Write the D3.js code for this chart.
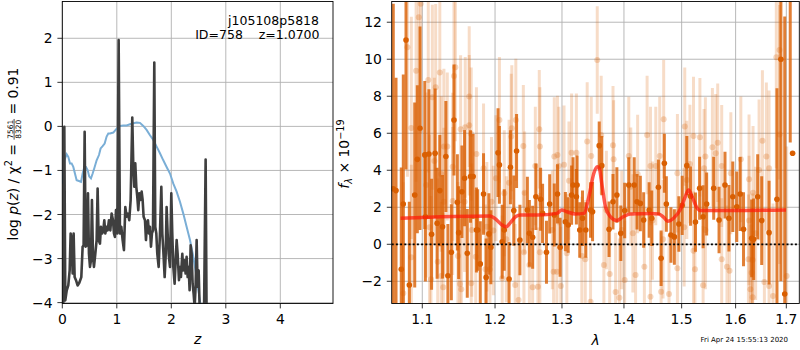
<!DOCTYPE html>
<html><head><meta charset="utf-8">
<script src="https://cdn.jsdelivr.net/npm/d3@7"></script>
<style>body{margin:0;background:#fff} svg{display:block} text{font-family:"DejaVu Sans",sans-serif;fill:#000}</style>
</head><body><svg id="c" width="800" height="350"></svg>
<script>
// ---------- data: left panel, log p(z) ----------
const pzZ = [0.0,0.018,0.037,0.055,0.080,0.110,0.135,0.153,0.171,0.190,0.208,0.226,0.251,0.281,0.312,0.349,0.373,0.391,0.410,0.428,0.453,0.471,0.489,0.508,0.526,0.544,0.563,0.581,0.606,0.630,0.648,0.667,0.691,0.709,0.734,0.752,0.771,0.789,0.813,0.832,0.856,0.881,0.905,0.930,0.948,0.966,0.985,1.009,1.034,1.058,1.083,1.107,1.131,1.156,1.180,1.205,1.229,1.254,1.284,1.303,1.321,1.339,1.358,1.376,1.394,1.413,1.431,1.456,1.474,1.492,1.517,1.535,1.554,1.572,1.590,1.609,1.627,1.645,1.664,1.688,1.706,1.725,1.743,1.768,1.792,1.817,1.835,1.853,1.878,1.896,1.914,1.933,1.951,1.976,2.000,2.018,2.037,2.061,2.080,2.098,2.116,2.141,2.159,2.177,2.202,2.220,2.239,2.263,2.281,2.300,2.318,2.336,2.355,2.373,2.391,2.410,2.428,2.446,2.465,2.483,2.502,2.520,2.557,2.599,2.630,2.648,2.700];
const pzLogP = [-4.5,-4.02,-0.01,-3.95,-3.73,-3.61,-3.27,-2.43,-2.58,-3.34,-2.43,-3.42,-3.49,-3.61,-3.55,-3.42,-2.73,-2.70,-0.12,-2.73,-2.70,-1.52,-2.89,-3.19,-3.04,-1.67,-2.96,-3.19,-2.89,-2.58,-1.41,-2.58,-2.66,-2.28,-2.43,-2.36,-2.13,-2.43,-2.28,-2.36,-2.13,-2.36,-1.98,-2.13,-2.43,-2.51,-1.90,-2.43,1.96,-2.43,-2.28,-2.58,-2.81,-1.83,-2.05,-1.98,-2.13,-1.67,0.20,-0.92,-1.37,-0.84,-1.37,-1.60,-1.90,-1.52,-1.67,-1.48,-1.67,-2.05,-2.13,-2.58,-2.20,-2.13,-2.43,-2.28,-2.73,-2.43,-2.36,1.45,-2.28,-2.43,-2.89,-3.19,-2.43,-1.37,-2.43,-2.81,-3.42,-2.96,-1.83,-2.43,-2.89,-3.19,-1.52,-2.43,-3.19,-3.57,-3.04,-2.58,-2.89,-3.49,-3.19,-3.42,-2.89,-3.27,-3.04,-3.34,-2.96,-3.42,-3.19,-3.72,-2.70,-2.89,-3.57,-3.80,-4.10,-3.64,-2.58,-3.64,-3.27,-4.10,-4.40,-4.40,-0.75,-4.40,-5.0];
// scaled chi-square curve (blue)
const chiZ = [0.0,0.037,0.080,0.110,0.141,0.171,0.202,0.232,0.263,0.306,0.343,0.373,0.404,0.434,0.465,0.495,0.526,0.557,0.587,0.630,0.673,0.703,0.740,0.777,0.813,0.844,0.875,0.936,0.997,1.058,1.119,1.180,1.242,1.303,1.364,1.425,1.486,1.547,1.609,1.670,1.731,1.792,1.853,1.914,1.976,2.037,2.098,2.159,2.220,2.281,2.343,2.404,2.465,2.514,2.544];
const chiCurve = [-1.30,-0.77,-0.63,-0.69,-0.84,-0.84,-0.92,-1.07,-1.22,-1.24,-1.26,-1.07,-0.92,-0.92,-0.99,-1.14,-1.18,-1.07,-0.95,-0.77,-0.65,-0.50,-0.45,-0.39,-0.23,-0.16,-0.16,-0.14,-0.05,0.01,0.02,0.02,0.05,0.07,0.09,0.08,0.01,-0.08,-0.20,-0.31,-0.46,-0.61,-0.77,-0.92,-1.07,-1.30,-1.48,-1.71,-1.98,-2.28,-2.58,-2.96,-3.42,-3.87,-4.10];
const zTicks = [0,1,2,3,4];
const logpTicks = [-4,-3,-2,-1,0,1,2];

// ---------- data: right panel, spectrum ----------
// combined (dark) spectrum
const binLam  = [1.0625,1.0660,1.0727,1.0753,1.0788,1.0831,1.0901,1.0935,1.0970,1.1033,1.1041,1.1088,1.1123,1.1170,1.1197,1.1233,1.1270,1.1315,1.1342,1.1389,1.1425,1.1471,1.1489,1.1534,1.1571,1.1608,1.1653,1.1690,1.1736,1.1753,1.1790,1.1836,1.1873,1.1912,1.1940,1.2043,1.2063,1.2103,1.2133,1.2203,1.2223,1.2272,1.2313,1.2362,1.2473,1.2503,1.2552,1.2601,1.2672,1.2702,1.2761,1.2810,1.2881,1.2930,1.2971,1.3053,1.3097,1.3150,1.3173,1.3226,1.3237,1.3279,1.3323,1.3376,1.3452,1.3484,1.3592,1.3634,1.3753,1.3818,1.3882,1.3947,1.4012,1.4081,1.4173,1.4220,1.4277,1.4334,1.4428,1.4473,1.4589,1.4636,1.4693,1.4728,1.4809,1.4870,1.4950,1.5010,1.5093,1.5160,1.5250,1.5326,1.5390,1.5455,1.5586,1.5686,1.5798,1.5872,1.5946,1.6022,1.6087,1.6152,1.6310,1.6349,1.6428,1.6507,1.6653,1.6811,1.6890,1.6968,1.7080,1.7128];
const binFlux = [3.0,2.9,-1.35,2.18,11.04,-2.20,2.66,4.59,6.27,4.83,1.49,4.88,0.54,4.92,1.14,2.90,0.95,4.74,-1.70,-0.43,6.72,2.27,0.63,2.84,3.57,-0.49,3.66,3.66,0.77,0.77,-1.06,2.72,-1.79,0.56,-0.16,4.95,4.29,0.14,0.77,-1.88,4.16,1.82,5.04,0.23,1.85,0.59,0.38,2.57,2.43,1.67,-0.43,2.18,1.58,2.72,-0.16,1.22,1.04,2.66,3.20,2.57,3.20,0.77,1.41,0.77,1.85,1.76,5.33,4.25,0.81,2.30,2.66,0.59,1.82,3.20,3.20,2.30,2.21,1.31,1.85,1.41,3.08,-0.76,4.38,2.18,0.50,0.40,1.10,2.10,4.25,2.60,1.20,3.03,1.49,2.18,3.03,1.31,3.20,1.41,2.57,2.03,2.72,0.81,0.32,0.27,2.57,1.28,0.63,2.43,10.0,-2.69,14.5,4.92];
const binErr  = [10,6.1,5.5,7.0,7.0,4.5,5.0,4.0,5.5,4.0,3.5,3.5,3.0,3.5,3.0,3.0,2.8,3.0,2.8,2.6,3.0,2.6,2.5,2.5,2.6,2.4,2.5,2.3,2.3,2.2,2.3,2.2,2.1,2.2,2.0,2.4,2.1,2.0,2.2,2.0,2.0,1.9,2.0,1.9,1.8,1.8,1.7,1.8,1.7,1.6,1.7,1.6,1.7,1.6,1.6,1.6,1.5,1.6,1.5,1.5,1.6,1.5,1.5,1.5,1.5,1.6,1.3,1.6,1.5,1.5,1.5,1.5,1.5,1.5,1.5,1.5,1.5,1.5,1.5,1.5,1.5,1.5,1.6,1.5,1.5,1.5,1.5,1.6,1.6,1.6,1.6,1.7,1.7,1.7,1.7,1.8,1.8,1.8,1.9,1.9,2.0,2.0,2.1,2.2,2.3,2.4,2.8,6.0,12,15,9.0,0];
// individual (light) spectrum
const rawLam  = [1.0753,1.0806,1.0857,1.0857,1.0919,1.0954,1.0980,1.1051,1.1079,1.1096,1.1115,1.1133,1.1160,1.1178,1.1205,1.1233,1.1252,1.1252,1.1279,1.1288,1.1288,1.1334,1.1407,1.1407,1.1425,1.1444,1.1479,1.1507,1.1516,1.1526,1.1571,1.1580,1.1635,1.1635,1.1663,1.1663,1.1671,1.1726,1.1736,1.1836,1.1863,1.1883,1.1927,1.1949,1.1976,1.2013,1.2063,1.2103,1.2133,1.2163,1.2203,1.2234,1.2243,1.2293,1.2302,1.2342,1.2413,1.2422,1.2432,1.2503,1.2552,1.2592,1.2631,1.2652,1.2661,1.2661,1.2851,1.2870,1.2881,1.2921,1.2930,1.2951,1.2982,1.3032,1.3076,1.3109,1.3150,1.3226,1.3312,1.3367,1.3398,1.3452,1.3463,1.3560,1.3624,1.3668,1.3709,1.3763,1.3818,1.3828,1.3861,1.3924,1.3963,1.4012,1.4081,1.4115,1.4150,1.4196,1.4231,1.4346,1.4393,1.4451,1.4451,1.4485,1.4543,1.4612,1.4636,1.4670,1.4681,1.4775,1.4924,1.4924,1.5045,1.5056,1.5093,1.5149,1.5214,1.5214,1.5241,1.5331,1.5390,1.5407,1.5432,1.5432,1.5562,1.5624,1.5661,1.5736,1.5736,1.5835,1.5884,1.5909,1.6100,1.6247,1.6259,1.6259,1.6285,1.6310,1.6329,1.6329,1.6337,1.6388,1.6455,1.6521,1.6560,1.6599,1.6653,1.6653,1.6732,1.6798,1.6863,1.6863,1.7007];
const rawFlux = [-2.65,10.65,6.29,-0.70,9.38,12.27,13.0,3.20,8.88,0.92,-1.89,7.95,4.50,8.49,-0.94,9.28,3.80,-1.71,-2.32,5.28,2.30,5.28,4.19,2.34,9.10,9.57,-0.63,-2.15,6.22,-2.43,2.30,6.32,7.98,6.43,5.96,-2.11,0.77,-0.67,4.88,4.11,-1.35,0.95,-1.35,2.30,0.74,3.57,6.72,-1.84,2.76,0.27,3.33,5.82,6.27,-2.20,6.72,-3.01,5.31,-0.43,2.79,-1.12,-2.32,4.23,-2.29,6.22,5.28,-0.43,0.77,-1.48,4.74,-1.48,4.83,4.23,-2.25,4.30,-0.49,3.44,4.95,4.95,-0.63,-0.81,5.55,-3.10,4.77,9.96,5.91,-1.12,1.85,-1.61,5.35,4.59,-2.58,-2.89,0.77,-1.93,4.77,3.11,0.59,-1.66,3.80,-1.21,5.91,4.23,-2.83,1.28,4.23,4.77,-2.56,0.27,6.76,-2.69,3.84,-1.30,0.92,6.36,3.48,4.34,5.85,-0.35,-1.35,5.78,-2.22,4.11,4.74,0.77,5.24,4.92,5.49,4.23,-0.81,-1.21,-1.43,3.84,4.59,-0.81,3.51,1.28,-2.43,-1.54,-0.85,-2.86,2.79,0.59,4.02,5.60,-2.04,4.74,4.11,-2.25,-2.79,10.11,10.50,5.93,-1.71];
const rawErr  = [6,7,6,5,6,6,7,5,5,5,4.5,5,4.5,4.5,4.5,4.5,4.2,4,4,4.2,4,4,4,4,4.2,4,4,4,4,3.8,3.8,3.8,3.8,3.8,3.6,3.6,3.6,3.6,3.6,3.5,3.5,3.5,3.5,3.5,3.5,3.4,3.4,3.4,3.4,3.4,3.4,3.4,3.4,3.3,3.3,3.3,3.3,3.3,3.3,3.2,3.2,3.2,3.2,3.2,3.2,3.2,3.2,3.2,3.2,3.2,3.2,3.2,3.2,3.2,3.2,3.2,3.2,3.2,3.2,3.2,3.2,3.2,3.2,2.9,3.2,3.2,3.2,3.2,3.2,3.2,3.2,3.2,3.2,3.2,3.2,3.2,3.2,3.2,3.2,3.2,3.2,3.2,3.2,3.2,3.2,3.2,3.2,3.2,3.2,3.2,3.2,3.2,3.2,3.2,3.2,3.2,3.2,3.2,3.2,3.2,3.2,3.2,3.2,3.2,3.2,3.2,3.2,3.3,3.3,3.3,3.3,3.3,3.4,3.5,3.5,3.5,3.5,3.5,3.6,3.6,3.6,3.6,3.8,3.8,4,4,4.2,4.2,5,6,7,7,7];
// model
const modelLam  = [1.0719,1.1927,1.2025,1.2100,1.2160,1.2223,1.2298,1.2372,1.2622,1.2921,1.2996,1.3076,1.3210,1.3344,1.3425,1.3505,1.3560,1.3592,1.3641,1.3694,1.3774,1.3882,1.3989,1.4104,1.4451,1.4595,1.4681,1.4751,1.4855,1.4971,1.5065,1.5126,1.5189,1.5282,1.5343,1.5896,1.6994];
const modelFlux = [1.41,1.53,1.31,1.04,0.95,1.17,1.49,1.58,1.58,1.67,1.85,1.76,1.64,1.67,2.57,3.84,4.19,4.11,3.11,2.03,1.49,1.28,1.49,1.64,1.67,1.64,1.46,1.24,1.41,1.85,2.57,2.94,2.57,1.95,1.82,1.82,1.85];
const lamTicks = [1.1,1.2,1.3,1.4,1.5,1.6,1.7];
const fluxTicks = [-2,0,2,4,6,8,10,12];

const fieldName = "j105108p5818";
const objInfo = "ID=758    z=1.0700";
const stamp = "Fri Apr 24 15:55:13 2020";

// ---------- drawing ----------
const svg = d3.select("#c");
const FS = 13.9;      // tick + axis label size
const FA = 12.5;      // annotation size
const Y0 = 1.5, Y1 = 303.5;
const TL = 4.9, PAD = 4.9;
const gridCol = "#b0b0b0";

const xL = d3.scaleLinear().domain([0, 4.967]).range([62.3, 333]);
const yL = d3.scaleLinear().domain([-4.02, 2.835]).range([Y1, Y0]);
const xR = d3.scaleLog().domain([1.0605, 1.7266]).range([391.7, 799.3]);
const yR = d3.scaleLinear().domain([-3.2, 13.12]).range([Y1, Y0]);

const defs = svg.append("defs");
function addClip(id, x0, x1) {
  defs.append("clipPath").attr("id", id).append("rect")
    .attr("x", x0).attr("y", Y0).attr("width", x1 - x0).attr("height", Y1 - Y0);
}
addClip("cl", 62.3, 333); addClip("cr", 391.7, 799.3);

function panelFrame(xs, ys, xt, yt, xfmt, yfmt) {
  const [x0, x1] = xs.range();
  const g = svg.append("g");
  g.selectAll(null).data(xt).enter().append("line")
    .attr("x1", d => xs(d)).attr("x2", d => xs(d)).attr("y1", Y0).attr("y2", Y1)
    .attr("stroke", gridCol).attr("stroke-width", 0.9);
  g.selectAll(null).data(yt).enter().append("line")
    .attr("x1", x0).attr("x2", x1).attr("y1", d => ys(d)).attr("y2", d => ys(d))
    .attr("stroke", gridCol).attr("stroke-width", 0.9);
  g.selectAll(null).data(xt).enter().append("line")
    .attr("x1", d => xs(d)).attr("x2", d => xs(d)).attr("y1", Y1).attr("y2", Y1 + TL)
    .attr("stroke", "#000").attr("stroke-width", 0.8);
  g.selectAll(null).data(yt).enter().append("line")
    .attr("x1", x0 - TL).attr("x2", x0).attr("y1", d => ys(d)).attr("y2", d => ys(d))
    .attr("stroke", "#000").attr("stroke-width", 0.8);
  g.selectAll(null).data(xt).enter().append("text")
    .attr("x", d => xs(d)).attr("y", 324.3).attr("text-anchor", "middle")
    .attr("font-size", FS).text(xfmt);
  g.selectAll(null).data(yt).enter().append("text")
    .attr("x", x0 - TL - PAD).attr("y", d => ys(d) + 5).attr("text-anchor", "end")
    .attr("font-size", FS).text(yfmt);
  return g;
}
function spine(xs) {
  const [x0, x1] = xs.range();
  svg.append("rect").attr("x", x0).attr("y", Y0).attr("width", x1 - x0).attr("height", Y1 - Y0)
    .attr("fill", "none").attr("stroke", "#000").attr("stroke-width", 0.9);
}
const minus = v => String(v).replace("-", "\u2212");

// ---- left ----
panelFrame(xL, yL, zTicks, logpTicks, d => String(d), d => minus(d));
const gl = svg.append("g").attr("clip-path", "url(#cl)");
const line = d3.line().x(d => xL(d[0])).y(d => yL(d[1]));
gl.append("path").datum(chiZ.map((z, i) => [z, chiCurve[i]])).attr("d", line)
  .attr("fill", "none").attr("stroke", "#7aaed6").attr("stroke-width", 2);
gl.append("path").datum(pzZ.map((z, i) => [z, pzLogP[i]])).attr("d", line)
  .attr("fill", "none").attr("stroke", "#3f3f3f").attr("stroke-width", 2.6).attr("stroke-linejoin", "round");
spine(xL);
svg.append("text").attr("x", 319).attr("y", 24.5).attr("text-anchor", "end").attr("font-size", FA).text(fieldName);
svg.append("text").attr("x", 319.5).attr("y", 38.5).attr("text-anchor", "end").attr("font-size", FA)
  .style("white-space", "pre").text(objInfo);

// ---- right ----
panelFrame(xR, yR, lamTicks, fluxTicks, d => d.toFixed(1), d => minus(d));
const gr = svg.append("g").attr("clip-path", "url(#cr)");
const orange = "#d95f02";
const raw = rawLam.map((l, i) => [l, rawFlux[i], rawErr[i]]);
const bin = binLam.map((l, i) => [l, binFlux[i], binErr[i]]);
gr.selectAll(null).data(raw).enter().append("line")
  .attr("x1", d => xR(d[0])).attr("x2", d => xR(d[0]))
  .attr("y1", d => yR(d[1] - d[2])).attr("y2", d => yR(d[1] + d[2]))
  .attr("stroke", orange).attr("stroke-opacity", 0.22).attr("stroke-width", 3);
gr.selectAll(null).data(raw).enter().append("circle")
  .attr("cx", d => xR(d[0])).attr("cy", d => yR(d[1])).attr("r", 3)
  .attr("fill", orange).attr("fill-opacity", 0.25);
gr.selectAll(null).data(bin).enter().append("line")
  .attr("x1", d => xR(d[0])).attr("x2", d => xR(d[0]))
  .attr("y1", d => yR(d[1] - d[2])).attr("y2", d => yR(d[1] + d[2]))
  .attr("stroke", orange).attr("stroke-opacity", 0.8).attr("stroke-width", 3);
gr.selectAll(null).data(bin).enter().append("circle")
  .attr("cx", d => xR(d[0])).attr("cy", d => yR(d[1])).attr("r", 2.8)
  .attr("fill", orange);
const mline = d3.line().x(d => xR(d[0])).y(d => yR(d[1])).curve(d3.curveMonotoneX);
gr.append("path").datum(modelLam.map((l, i) => [l, modelFlux[i]])).attr("d", mline)
  .attr("fill", "none").attr("stroke", "#ff1a0a").attr("stroke-opacity", 0.72).attr("stroke-width", 3.5);
gr.append("line").attr("x1", 391.7).attr("x2", 799.3).attr("y1", yR(0)).attr("y2", yR(0))
  .attr("stroke", "#000").attr("stroke-width", 1.8).attr("stroke-dasharray", "2,2.2");
spine(xR);

// ---- axis labels ----
svg.append("text").attr("x", 197.6).attr("y", 343.5).attr("text-anchor", "middle")
  .attr("font-size", FS).attr("font-style", "italic").text("z");
svg.append("text").attr("x", 595.5).attr("y", 345).attr("text-anchor", "middle")
  .attr("font-size", FS).attr("font-style", "italic").text("\u03bb");
svg.append("text").attr("x", 788).attr("y", 342).attr("text-anchor", "end")
  .attr("font-size", 7).text(stamp);

function richLabel(bx, cy, parts) {
  const g = svg.append("g").attr("transform", `translate(${bx},${cy}) rotate(-90)`);
  const inner = g.append("g");
  let x = 0;
  parts.forEach(p => {
    if (p.frac) {
      const fs = 7.5;
      const a = inner.append("text").attr("font-size", fs).attr("y", -4.3).text(p.frac[0]);
      const b = inner.append("text").attr("font-size", fs).attr("y", 3.0).text(p.frac[1]);
      const w = Math.max(a.node().getComputedTextLength(), b.node().getComputedTextLength()) + 1.6;
      a.attr("x", x + 0.8); b.attr("x", x + 0.8);
      inner.append("line").attr("x1", x).attr("x2", x + w).attr("y1", -3.4).attr("y2", -3.4)
        .attr("stroke", "#000").attr("stroke-width", 0.7);
      x += w;
    } else {
      const fs = p.sup || p.sub ? FS * 0.7 : FS;
      const t = inner.append("text").attr("x", x).attr("y", p.sup ? -5.5 : (p.sub ? 2.8 : 0))
        .attr("font-size", fs).style("white-space", "pre").text(p.t);
      if (p.it) t.attr("font-style", "italic");
      x += t.node().getComputedTextLength();
    }
  });
  inner.attr("transform", `translate(${-x / 2},0)`);
}
richLabel(17.5, 154, [
  {t: "log "}, {t: "p", it: true}, {t: "("}, {t: "z", it: true}, {t: ") / "}, {t: "\u03c7"}, {t: "2", sup: true},
  {t: " = "}, {frac: ["7561", "8320"]}, {t: " = 0.91"}
]);
richLabel(349, 154, [
  {t: "f", it: true}, {t: "\u03bb", sub: true, it: true}, {t: " \u00d7 10"}, {t: "\u221219", sup: true}
]);
</script></body></html>
